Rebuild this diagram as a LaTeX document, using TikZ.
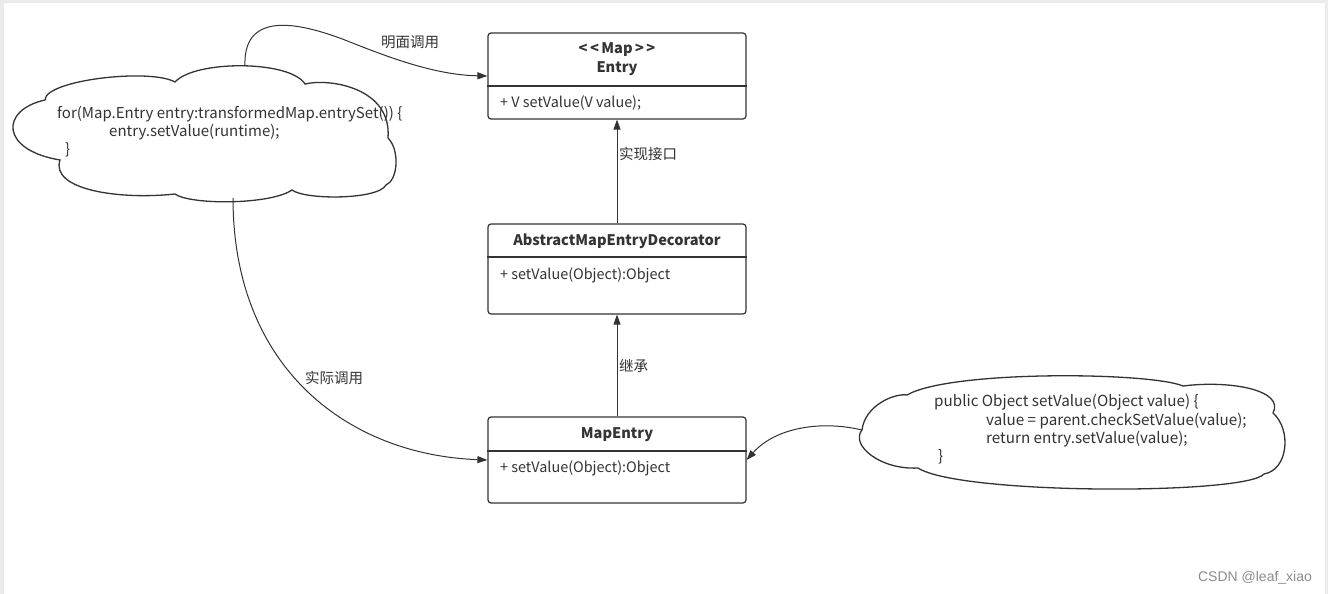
\documentclass[tikz,border=0pt]{standalone}
\usepackage{fontspec}
\setmainfont{Noto Sans CJK SC}
\newfontfamily\wmfont{Liberation Sans}
\usetikzlibrary{arrows.meta}
\definecolor{ink}{HTML}{333333}
\begin{document}
\begin{tikzpicture}[x=1pt,y=-1pt,
  umlbox/.style={draw=ink, line width=1.2pt, rounded corners=3pt, fill=white, inner sep=0pt},
  divider/.style={draw=ink, line width=1.2pt},
  txt/.style={text=ink, font=\fontsize{14.4}{16}\selectfont, inner sep=0pt},
  cloudtxt/.style={txt, font=\fontsize{15}{16}\selectfont},
  cloudtxtb/.style={txt, font=\fontsize{15.2}{16}\selectfont},
  title/.style={txt, font=\fontsize{14.6}{16}\selectfont\bfseries},
  lbl/.style={txt, font=\fontsize{14.5}{16}\selectfont},
  conn/.style={draw=ink, line width=1pt, -{Triangle[length=10pt,width=7pt]}},
  cloudline/.style={draw=ink, line width=1.3pt, fill=white},
]
\useasboundingbox (0,0) rectangle (1328,594);
\fill[black!8] (0,0) rectangle (1328,594);
\fill[white] (4,3) rectangle (1325,594);

% ---- UML boxes
\node[umlbox, minimum width=258pt, minimum height=86pt] (entry) at (617,76) {};
\draw[divider] (entry.west |- 0,86) -- (entry.east |- 0,86);
\node[title] (entryStereo) at (617,50) {<\,<\,Map\,>\,>};
\node[title] (entryName) at (617,69) {Entry};
\node[txt, anchor=west] (entryOp) at (500,103) {+ V setValue(V value);};

\node[umlbox, minimum width=258pt, minimum height=90pt] (amed) at (617,269) {};
\draw[divider] (amed.west |- 0,257) -- (amed.east |- 0,257);
\node[title] (amedName) at (617,241) {AbstractMapEntryDecorator};
\node[txt, anchor=west] (amedOp) at (500,275) {+ setValue(Object):Object};

\node[umlbox, minimum width=258pt, minimum height=86pt] (mapentry) at (617,460) {};
\draw[divider] (mapentry.west |- 0,451) -- (mapentry.east |- 0,451);
\node[title] (meName) at (617,435) {MapEntry};
\node[txt, anchor=west] (meOp) at (500,468) {+ setValue(Object):Object};

% ---- clouds
\draw[cloudline] (45,100) .. controls (45,80) and (150,68) .. (175,82)
  .. controls (195,60) and (290,60) .. (305,84)
  .. controls (330,78) and (392,88) .. (388,138)
  .. controls (400,150) and (398,180) .. (386,185)
  .. controls (378,200) and (305,200) .. (292,190)
  .. controls (270,205) and (190,205) .. (175,194)
  .. controls (120,200) and (50,190) .. (60,160)
  .. controls (0,150) and (0,110) .. (45,100) -- cycle;
\node[cloudtxt, anchor=west] (c1a) at (57,114) {for(Map.Entry entry:transformedMap.entrySet()) \{};
\node[cloudtxt, anchor=west] (c1b) at (109,132) {entry.setValue(runtime);};
\node[cloudtxt, anchor=west] (c1c) at (65,150) {\}};
\coordinate (c1top) at (245,66);
\coordinate (c1bot) at (233,198);

\draw[cloudline] (862,430) .. controls (865,405) and (895,393) .. (907,395)
  .. controls (950,370) and (1150,372) .. (1183,386)
  .. controls (1230,380) and (1285,390) .. (1273,413)
  .. controls (1292,430) and (1288,470) .. (1264,474)
  .. controls (1246,495) and (960,495) .. (918,468)
  .. controls (880,470) and (850,445) .. (862,430) -- cycle;
\node[cloudtxtb, anchor=west] (c2a) at (934,402) {public Object setValue(Object value) \{};
\node[cloudtxtb, anchor=west] (c2b) at (986,421) {value = parent.checkSetValue(value);};
\node[cloudtxtb, anchor=west] (c2c) at (986,439) {return entry.setValue(value);};
\node[cloudtxtb, anchor=west] (c2d) at (938,457) {\}};
\coordinate (c2left) at (862,430);

% ---- connectors
\draw[conn] (amed.north) -- (entry.south);
\node[lbl, anchor=west] (l1) at (619,154) {实现接口};
\draw[conn] (mapentry.north) -- (amed.south);
\node[lbl, anchor=west] (l2) at (619,366) {继承};

\draw[conn] (c1top) .. controls (243,15) and (290,18) .. (350,42)
  .. controls (400,62) and (440,75) .. (entry.west);
\node[lbl] (l3) at (410,42) {明面调用};

\draw[conn] (c1bot) .. controls (233,370) and (350,455) .. (mapentry.west);
\node[lbl] (l4) at (334,378) {实际调用};

\draw[conn] (c2left) .. controls (820,420) and (775,428) .. (mapentry.east);

\node[text=black!45, font=\wmfont\fontsize{14}{16}\selectfont, inner sep=0pt] (wm) at (1255,578) {CSDN @leaf\_xiao};
\end{tikzpicture}
\end{document}
